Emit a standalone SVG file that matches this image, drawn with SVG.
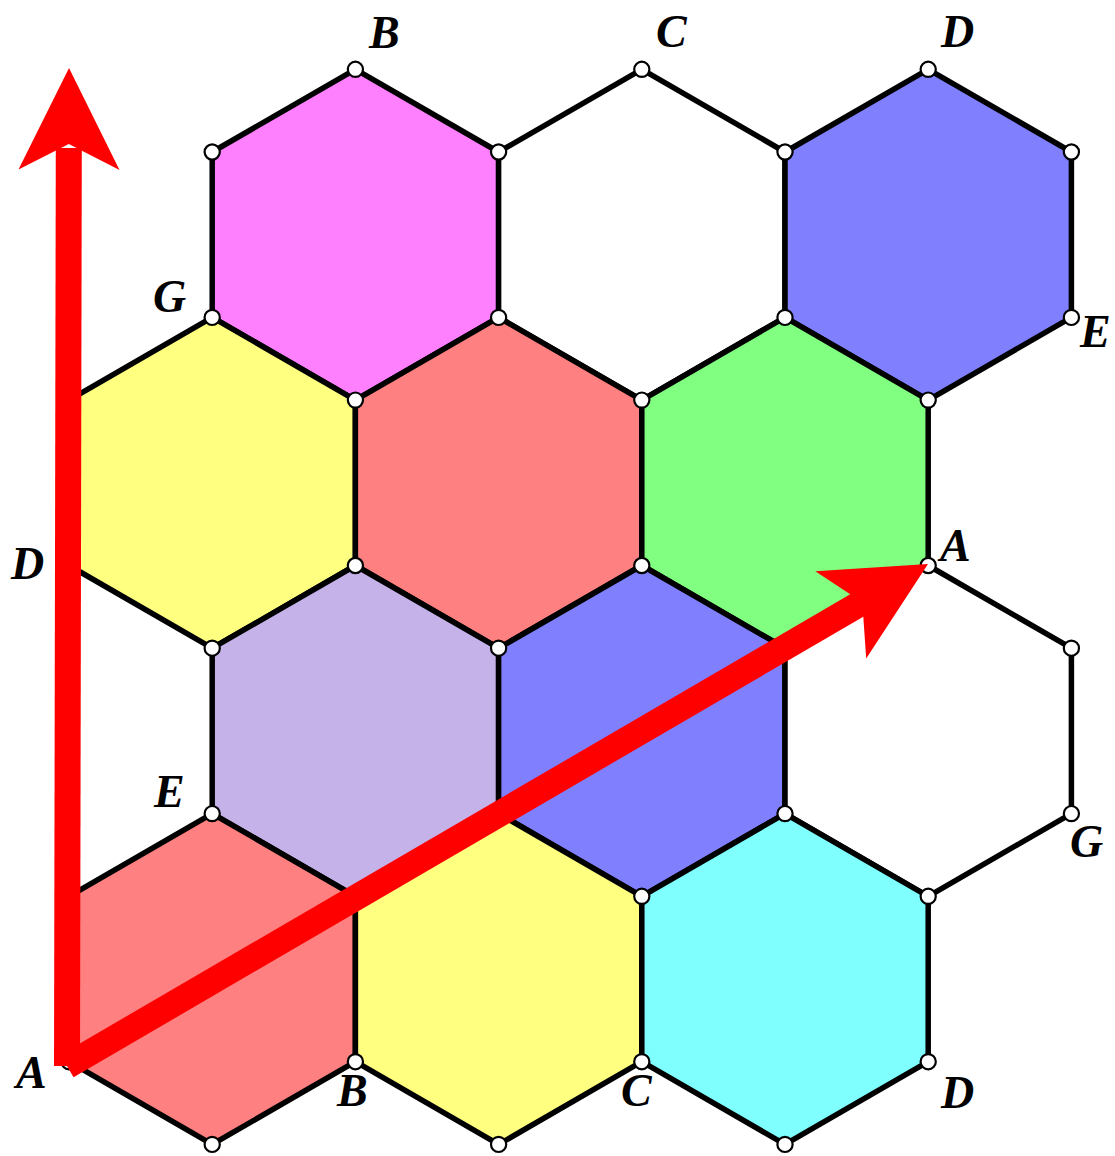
<svg xmlns="http://www.w3.org/2000/svg" width="1115" height="1156" viewBox="0 0 1115 1156">
<style>
.hex{stroke:#000;stroke-width:5.5;stroke-linejoin:round}
.pt{fill:#fff;stroke:#000;stroke-width:2.2}
.lbl{font-family:"Liberation Serif","Times New Roman",serif;font-weight:bold;font-style:italic;font-size:46px;fill:#000}
.arr{fill:#ff0000}
.shaft{stroke:#ff0000;stroke-width:26;stroke-linecap:butt;fill:none}
</style>
<defs>
<polygon id="h" points="0,-165.4 143.2,-82.7 143.2,82.7 0,165.4 -143.2,82.7 -143.2,-82.7"/>
<circle id="c" r="7.6"/>
</defs>
<rect width="1115" height="1156" fill="#fff"/>
<g id="hex-r1-magenta"><use href="#h" class="hex" fill="#ff80ff" transform="translate(355.4,234.7)"/></g>
<g id="hex-r1-white"><use href="#h" class="hex" fill="#ffffff" transform="translate(641.8,234.7)"/></g>
<g id="hex-r1-blue"><use href="#h" class="hex" fill="#8080ff" transform="translate(928.2,234.7)"/></g>
<g id="hex-r2-yellow"><use href="#h" class="hex" fill="#ffff80" transform="translate(212.2,482.8)"/></g>
<g id="hex-r2-salmon"><use href="#h" class="hex" fill="#ff8080" transform="translate(498.6,482.8)"/></g>
<g id="hex-r2-green"><use href="#h" class="hex" fill="#80ff80" transform="translate(785,482.8)"/></g>
<g id="hex-r3-lavender"><use href="#h" class="hex" fill="#c4b2e8" transform="translate(355.4,730.9)"/></g>
<g id="hex-r3-blue"><use href="#h" class="hex" fill="#8080ff" transform="translate(641.8,730.9)"/></g>
<g id="hex-r3-white"><use href="#h" class="hex" fill="#ffffff" transform="translate(928.2,730.9)"/></g>
<g id="hex-r4-salmon"><use href="#h" class="hex" fill="#ff8080" transform="translate(212.2,979)"/></g>
<g id="hex-r4-yellow"><use href="#h" class="hex" fill="#ffff80" transform="translate(498.6,979)"/></g>
<g id="hex-r4-cyan"><use href="#h" class="hex" fill="#80ffff" transform="translate(785,979)"/></g>
<g id="vertices" class="pt">
<use href="#c" x="355.4" y="69.3"/><use href="#c" x="641.8" y="69.3"/><use href="#c" x="928.2" y="69.3"/>
<use href="#c" x="212.2" y="152"/><use href="#c" x="498.6" y="152"/><use href="#c" x="785" y="152"/><use href="#c" x="1071.4" y="152"/>
<use href="#c" x="212.2" y="317.4"/><use href="#c" x="498.6" y="317.4"/><use href="#c" x="785" y="317.4"/><use href="#c" x="1071.4" y="317.4"/>
<use href="#c" x="69" y="400.1"/><use href="#c" x="355.4" y="400.1"/><use href="#c" x="641.8" y="400.1"/><use href="#c" x="928.2" y="400.1"/>
<use href="#c" x="69" y="565.5"/><use href="#c" x="355.4" y="565.5"/><use href="#c" x="641.8" y="565.5"/><use href="#c" x="928.2" y="565.5"/>
<use href="#c" x="212.2" y="648.2"/><use href="#c" x="498.6" y="648.2"/><use href="#c" x="785" y="648.2"/><use href="#c" x="1071.4" y="648.2"/>
<use href="#c" x="212.2" y="813.6"/><use href="#c" x="498.6" y="813.6"/><use href="#c" x="785" y="813.6"/><use href="#c" x="1071.4" y="813.6"/>
<use href="#c" x="69" y="896.3"/><use href="#c" x="355.4" y="896.3"/><use href="#c" x="641.8" y="896.3"/><use href="#c" x="928.2" y="896.3"/>
<use href="#c" x="69" y="1061.7"/><use href="#c" x="355.4" y="1061.7"/><use href="#c" x="641.8" y="1061.7"/><use href="#c" x="928.2" y="1061.7"/>
<use href="#c" x="212.2" y="1144.4"/><use href="#c" x="498.6" y="1144.4"/><use href="#c" x="785" y="1144.4"/>
</g>
<g id="connectors">
<g id="arrow-vertical">
<line class="shaft" x1="67" y1="1066" x2="68.8" y2="148"/>
<polygon class="arr" points="69,68 119.5,170 68.8,144 18.5,169.5"/>
</g>
<g id="arrow-diagonal">
<line class="shaft" x1="67" y1="1066" x2="862.3" y2="602.3"/>
<polygon class="arr" points="928,564 866.2,658.5 862.3,602.3 815.3,571.2"/>
</g>
</g>
<g id="labels" class="lbl">
<text x="369" y="48">B</text>
<text x="656" y="47">C</text>
<text x="941" y="47">D</text>
<text x="153" y="312">G</text>
<text x="1080" y="347">E</text>
<text x="11" y="579">D</text>
<text x="940" y="561">A</text>
<text x="154" y="807">E</text>
<text x="1070" y="857">G</text>
<text x="16" y="1088">A</text>
<text x="337" y="1106">B</text>
<text x="621" y="1106">C</text>
<text x="941" y="1108">D</text>
</g>
</svg>
